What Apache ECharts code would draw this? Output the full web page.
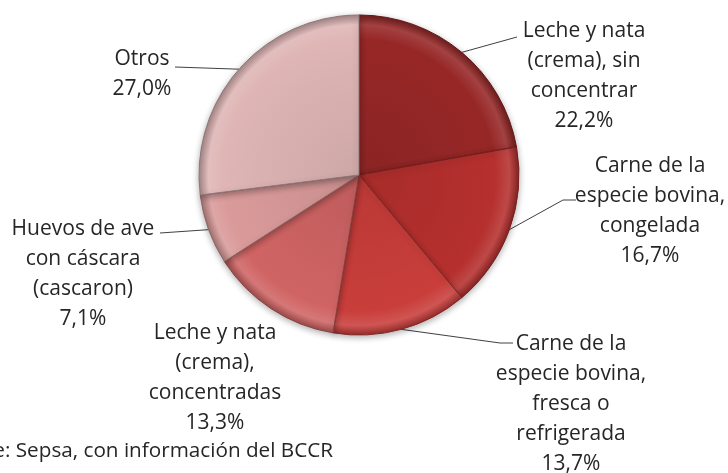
<!DOCTYPE html>
<html>
<head>
<meta charset="utf-8">
<script src="https://cdn.jsdelivr.net/npm/echarts@6/dist/echarts.min.js"></script>
<style>
  html, body { margin: 0; padding: 0; background: #fff; }
  #chart { width: 728px; height: 473px; }
</style>
</head>
<body>
<div id="chart"></div>
<script>
// categorias y porcentajes
var categories = [
  'Leche y nata\n(crema), sin\nconcentrar',
  'Carne de la\nespecie bovina,\ncongelada',
  'Carne de la\nespecie bovina,\nfresca o\nrefrigerada',
  'Leche y nata\n(crema),\nconcentradas',
  'Huevos de ave\ncon cáscara\n(cascaron)',
  'Otros'
]
var values = [22.2, 16.7, 13.7, 13.3, 7.1, 27.0]
var sliceColors = ['#972727', '#b5302e', '#c93e3b', '#d06464', '#da9a9a', '#dfb5b5']
var sourceText = 'Fuente: Sepsa, con información del BCCR'

// posicion de cada etiqueta (centro del bloque de texto)
var labelPos = [[584, 76], [650, 211], [571, 404], [215, 378], [83, 274], [142, 74]]
// donde termina la linea guia junto al texto
var leaderEnds = [
  [[517, 37]],
  [[563, 200], [576, 200]],
  [[500, 343], [513, 343]],
  null,
  [[160, 233]],
  [[175, 67]]
]

var cx = 359, cy = 175, r = 160

function shade(hex, f) {
  var n = parseInt(hex.slice(1), 16)
  var rr = (n >> 16) & 255, gg = (n >> 8) & 255, bb = n & 255
  function m(c) { return Math.max(0, Math.min(255, Math.round(f > 0 ? c + (255 - c) * f : c * (1 + f)))) }
  return 'rgb(' + m(rr) + ',' + m(gg) + ',' + m(bb) + ')'
}

var chart = echarts.init(document.getElementById('chart'))

var pieData = categories.map(function (name, i) {
  var c = sliceColors[i]
  return {
    name: name,
    value: values[i],
    labelLine: { show: leaderEnds[i] != null },
    itemStyle: {
      color: {
        type: 'radial', x: cx, y: cy, r: r, global: true,
        colorStops: [
          { offset: 0, color: shade(c, -0.08) },
          { offset: 0.85, color: c },
          { offset: 0.94, color: shade(c, 0.12) },
          { offset: 1, color: shade(c, -0.25) }
        ]
      },
      borderColor: shade(c, -0.35)
    }
  }
})

chart.setOption({
  backgroundColor: '#fff',
  animation: false,
  graphic: [{
    type: 'text',
    right: 395,
    top: 441,
    style: {
      text: sourceText,
      font: '20.7px "Open Sans"',
      fill: '#262626'
    }
  }],
  series: [{
    type: 'pie',
    center: [cx, cy],
    radius: r,
    startAngle: 90,
    clockwise: true,
    data: pieData,
    itemStyle: {
      borderWidth: 1,
      shadowBlur: 6,
      shadowColor: 'rgba(0,0,0,0.3)',
      shadowOffsetY: 2
    },
    label: {
      show: true,
      position: 'outside',
      fontFamily: 'Open Sans',
      fontSize: 21,
      lineHeight: 30,
      color: '#262626',
      formatter: function (p) {
        return p.name + '\n' + p.value.toFixed(1).replace('.', ',') + '%'
      }
    },
    labelLine: {
      show: true,
      length: 10,
      length2: 10,
      lineStyle: { color: '#404040', width: 1 }
    },
    labelLayout: function (params) {
      var i = params.dataIndex
      var p = labelPos[i]
      var out = { x: p[0], y: p[1], align: 'center', verticalAlign: 'middle' }
      if (leaderEnds[i] && params.labelLinePoints) {
        out.labelLinePoints = [params.labelLinePoints[0]].concat(leaderEnds[i])
      }
      return out
    }
  }]
})
</script>
</body>
</html>
